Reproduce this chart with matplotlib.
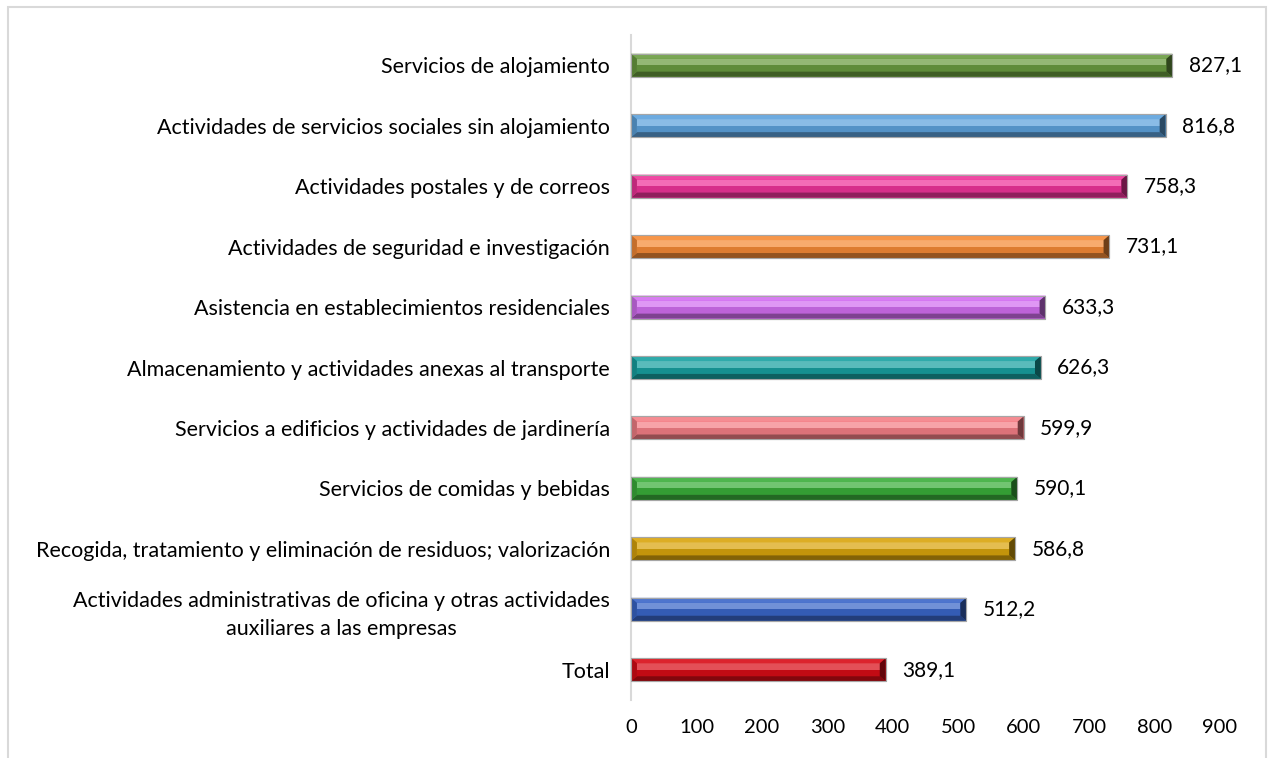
import numpy as np
import matplotlib
matplotlib.use("Agg")
import matplotlib.pyplot as plt
from matplotlib.patches import Polygon, Rectangle
from matplotlib.colors import to_rgb

plt.rcParams['font.family'] = ['Lato', 'DejaVu Sans']

# data, bottom to top
categories = [
    "Total",
    "Actividades administrativas de oficina y otras actividades\nauxiliares a las empresas",
    "Recogida, tratamiento y eliminación de residuos; valorización",
    "Servicios de comidas y bebidas",
    "Servicios a edificios y actividades de jardinería",
    "Almacenamiento y actividades anexas al transporte",
    "Asistencia en establecimientos residenciales",
    "Actividades de seguridad e investigación",
    "Actividades postales y de correos",
    "Actividades de servicios sociales sin alojamiento",
    "Servicios de alojamiento",
]
values = [389.1, 512.2, 586.8, 590.1, 599.9, 626.3, 633.3, 731.1, 758.3, 816.8, 827.1]
colors = ["#d80c16", "#3a66c8", "#d9a40c", "#3aae3a", "#f47f86", "#18a0a0",
          "#d26ef0", "#f58a36", "#ee3499", "#5da2dc", "#6a9c40"]
xticks = [0, 100, 200, 300, 400, 500, 600, 700, 800, 900]


def mix(c, other, t):
    c = np.array(to_rgb(c))
    o = np.array(to_rgb(other))
    return tuple(c * (1 - t) + o * t)


fig = plt.figure(figsize=(12.72, 7.58), dpi=100)
fig.patches.append(Rectangle((8 / 1272, -0.01), 1258 / 1272, 1 - 7 / 758 + 0.01,
                             transform=fig.transFigure, fill=False,
                             edgecolor="#d9d9d9", lw=1.5))
ax = fig.add_axes([631 / 1272, 58 / 758, 589 / 1272, 665 / 758])

ypos = np.arange(len(values))
h = 0.38
by = h * 0.22          # bevel depth (y, data units)
bx = 9.0               # bevel depth (x, data units)

ax.barh(ypos, values, height=h, color=colors, edgecolor="#a6a6a6", linewidth=0.8, zorder=2)

for y, v, c in zip(ypos, values, colors):
    top, bot = y + h / 2, y - h / 2
    # face: lighter upper half, base lower half
    ax.add_patch(Polygon([(bx, y), (v - bx, y), (v - bx, top - by), (bx, top - by)],
                         closed=True, color=mix(c, "white", 0.28), lw=0, zorder=3))
    ax.add_patch(Polygon([(bx, bot + by), (v - bx, bot + by), (v - bx, y), (bx, y)],
                         closed=True, color=mix(c, "black", 0.10), lw=0, zorder=3))
    # bevels
    ax.add_patch(Polygon([(0, top), (v, top), (v - bx, top - by), (bx, top - by)],
                         closed=True, color=mix(c, "white", 0.10), lw=0, zorder=3))
    ax.add_patch(Polygon([(0, bot), (v, bot), (v - bx, bot + by), (bx, bot + by)],
                         closed=True, color=mix(c, "black", 0.40), lw=0, zorder=3))
    ax.add_patch(Polygon([(0, top), (bx, top - by), (bx, bot + by), (0, bot)],
                         closed=True, color=mix(c, "black", 0.20), lw=0, zorder=3))
    ax.add_patch(Polygon([(v, top), (v - bx, top - by), (v - bx, bot + by), (v, bot)],
                         closed=True, color=mix(c, "black", 0.55), lw=0, zorder=3))
    ax.add_patch(Rectangle((0, bot), v, h, fill=False, edgecolor="#a6a6a6", lw=0.8, zorder=4))
    ax.text(v + 25, y, f"{v:.1f}".replace(".", ","), va="center", ha="left",
            fontsize=15, color="black")

ax.set_xlim(0, 900)
ax.set_ylim(-0.5, len(values) - 0.5)
ax.set_xticks(xticks)
ax.set_xticklabels([str(t) for t in xticks], fontsize=14.5, color="black")
ax.set_yticks(ypos)
ax.set_yticklabels(categories, fontsize=15.5, color="black",
                   multialignment="center", linespacing=1.45)
ax.tick_params(axis="both", length=0)
ax.tick_params(axis="y", pad=15)
ax.tick_params(axis="x", pad=14)
for s in ["top", "right", "bottom"]:
    ax.spines[s].set_visible(False)
ax.spines["left"].set_color("#d9d9d9")
ax.spines["left"].set_linewidth(1.5)

fig.savefig("out.png", dpi=100)
